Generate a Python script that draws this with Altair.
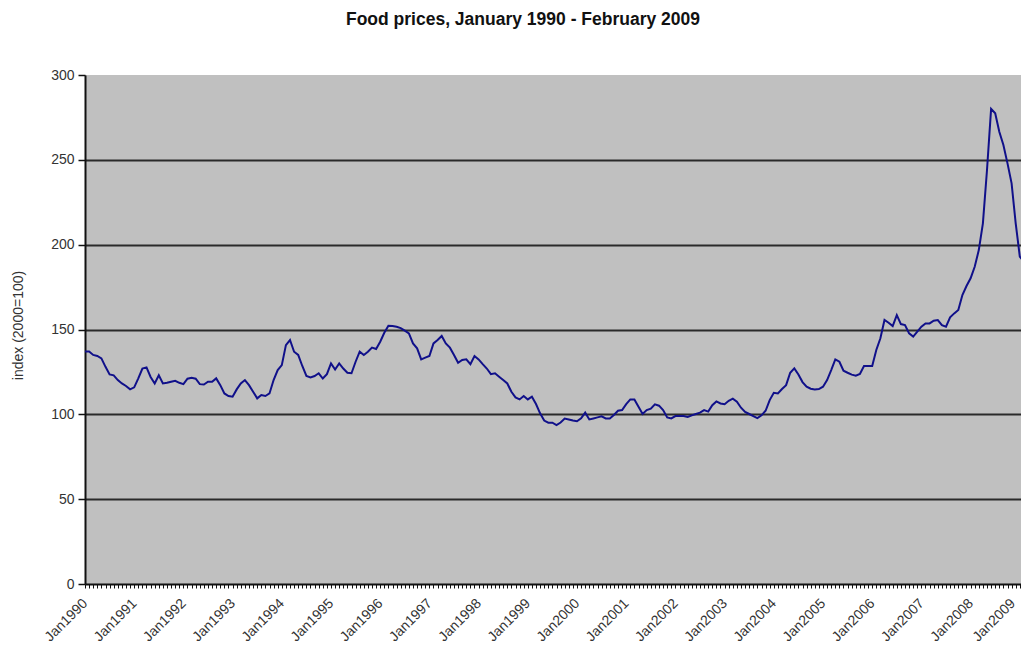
import altair as alt
import pandas as pd

# Monthly food price index (2000=100), Jan 1990 - Feb 2009
start_year = 1990
values = [
    137, 137, 135, 134.4, 133, 128, 123.5, 123, 120.2, 118.2, 116.7, 114.7,
    115.9, 121.2, 127, 127.7, 122, 118.2, 123, 118.2, 118.6, 119.2, 119.8, 118.6,
    117.8, 121, 121.6, 121, 117.8, 117.6, 119.2, 119.2, 121.2, 117.2, 112.3, 110.8,
    110.4, 114.7, 118.2, 120.2, 117.2, 113.3, 109.4, 111.4, 110.8, 112.3, 120.2, 126.1,
    129, 140.8, 143.8, 136.9, 135, 128.5, 122.6, 121.8, 122.6, 124.2, 121.1, 123.7,
    130, 126.4, 130, 127, 124.5, 124.2, 131, 136.9, 135, 136.9, 139.3, 138.5,
    142.8, 148.1, 152.2, 152, 151.6, 150.8, 149.3, 147.7, 141.8, 138.9, 132.4, 133.4,
    134.4, 141.8, 143.8, 146.2, 141.8, 139.3, 135, 130.4, 132, 132.4, 129.6, 134.4,
    132.4, 129.6, 127, 123.7, 124.2, 122.2, 120.2, 118.2, 113.3, 110, 108.8, 110.8,
    108.8, 110.4, 106.1, 100.6, 96.3, 95.1, 95.1, 93.7, 95.2, 97.5, 97, 96.4,
    95.9, 97.6, 101, 97, 97.6, 98.2, 98.8, 97.6, 97.6, 99.6, 102.1, 102.5,
    106, 108.8, 108.8, 104.5, 100.2, 102.5, 103.3, 105.9, 105.1, 102.5, 98.2, 97.6,
    99, 99, 99, 98.4, 99.4, 100.2, 101, 102.5, 101.6, 105.4, 107.6, 106.4,
    106, 108, 109.2, 107.4, 103.9, 101.4, 100.2, 99, 97.8, 99.4, 102.1, 108.4,
    112.7, 112.3, 114.9, 117.2, 124.5, 127.1, 123.5, 119, 116.3, 115.1, 114.7, 114.9,
    116.3, 120.2, 126.1, 132.4, 131, 125.7, 124.5, 123.4, 122.8, 123.8, 128.5, 128.5,
    128.5, 137.9, 144.8, 155.6, 154, 152, 158.5, 153.2, 152.6, 147.7, 145.8, 148.7,
    151.7, 153.6, 153.6, 155.2, 155.6, 152.6, 151.7, 157.2, 159.5, 161.5, 170.3, 175.6,
    180.2, 187, 196.8, 212.6, 244, 280, 277.4, 266.6, 258.7, 247.9, 236.1, 212.6,
    193, 190,
]
y_ticks = [0, 50, 100, 150, 200, 250, 300]

df = pd.DataFrame({"m": list(range(len(values))), "v": values})

label_expr = ("datum.value % 12 == 0 ? 'Jan' + (" + str(start_year)
              + " + floor(datum.value / 12)) : ''")

W = 936
month_px = 4.10

line = alt.Chart(df).mark_line(color="#10108a", strokeWidth=2, clip=True).encode(
    x=alt.X("m:Q",
            scale=alt.Scale(domain=[0, W / month_px], nice=False, zero=False),
            axis=alt.Axis(values=list(range(0, 229)), labelExpr=label_expr,
                          labelOverlap=False, labelAngle=-45, labelAlign="right",
                          labelBaseline="middle", labelPadding=13,
                          labelOffset={"condition": {"test": "datum.value >= 228",
                                                     "value": -7},
                                       "value": 0},
                          labelFontSize=14, labelColor="#333",
                          labelFont="Liberation Sans",
                          tickSize=4, tickColor="#111", tickWidth=1,
                          domainColor="#111", domainWidth=2,
                          grid=False, title=None)),
    y=alt.Y("v:Q",
            scale=alt.Scale(domain=[0, 300], nice=False),
            axis=alt.Axis(values=y_ticks, title="index (2000=100)",
                          titleFontSize=14, titleFontWeight="normal",
                          titleFont="Liberation Sans",
                          titleColor="#333", titleX=-67, titleY=250,
                          titleBaseline="middle",
                          labelFontSize=14, labelColor="#333", labelPadding=4,
                          labelFont="Liberation Sans",
                          tickSize=7, tickColor="#111", tickWidth=1.5,
                          domainColor="#111", domainWidth=2,
                          grid=True, gridWidth=1.8,
                          gridColor={"condition": {"test": "datum.value >= 300 || datum.value <= 0",
                                                   "value": "transparent"},
                                     "value": "#2a2a2a"})),
)

chart = line.properties(
    width=W,
    height=509,
    autosize=alt.AutoSizeParams(type="none"),
    padding={"left": 77, "top": 67, "right": 0, "bottom": 64},
    title=alt.TitleParams("Food prices, January 1990 - February 2009",
                          fontSize=17.5, fontWeight="bold", color="#111",
                          font="Liberation Sans", anchor="middle",
                          dx=-(85 + W / 2 - 523), offset=40),
).configure(
    font="Liberation Sans",
).configure_view(
    fill="#c0c0c0", stroke=None,
)

chart.save("out.html", embed_options={"renderer": "svg", "actions": False})
